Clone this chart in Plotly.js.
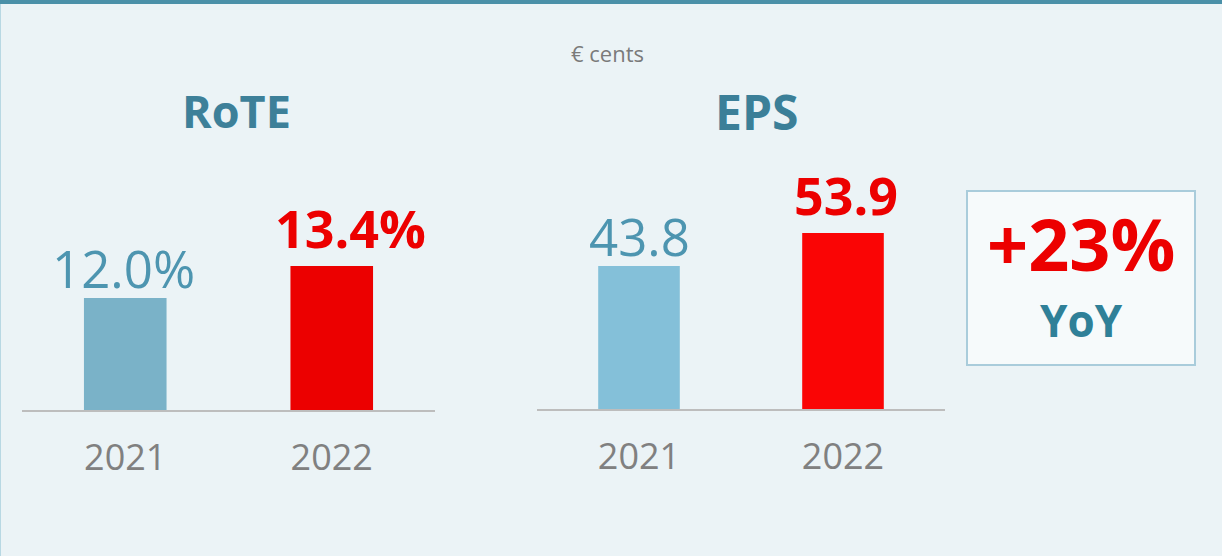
<!DOCTYPE html>
<html>
<head>
<meta charset="utf-8">
<script src="https://cdn.plot.ly/plotly-3.0.1.min.js"></script>
<style>html,body{margin:0;padding:0;background:#EBF3F6;}#chart{width:1222px;height:556px;}</style>
</head>
<body>
<div id="chart"></div>
<script>
// ---- data ----
const years = ['2021', '2022'];
const roteValues = [12.0, 13.4];
const epsValues = [43.8, 53.9];
const roteColors = ['#7AB2C8', '#EC0000'];
const epsColors = ['#84C0D9', '#FA0505'];
const labelColors = ['#4D95B0', '#EC0000'];
const unitNote = '€ cents';
const titles = ['RoTE', 'EPS'];

// ---- helpers ----
const W = 1222, H = 556;
const px = x => x / W;
const py = y => 1 - y / H;
const FONT = '"Open Sans", "Noto Sans", sans-serif';

const yoy = Math.round((epsValues[1] / epsValues[0] - 1) * 100);
const yoyText = (yoy >= 0 ? '+' : '') + yoy + '%';

const traces = [
  {type: 'bar', x: years, y: roteValues, xaxis: 'x', yaxis: 'y', width: 0.4,
   marker: {color: roteColors}, hoverinfo: 'none', cliponaxis: false},
  {type: 'bar', x: years, y: epsValues, xaxis: 'x2', yaxis: 'y2', width: 0.4,
   marker: {color: epsColors}, hoverinfo: 'none', cliponaxis: false}
];

const annotations = [];
function valueLabels(vals, fmt, xr, yr, shifts) {
  vals.forEach((v, i) => {
    const bold = i === 1;
    annotations.push({
      xref: xr, yref: yr, x: i, y: v, text: fmt(v),
      showarrow: false, yanchor: 'middle', xanchor: 'center',
      yshift: bold ? 38 : 30, xshift: shifts[i],
      font: {family: FONT, size: bold ? 52 : 51, color: labelColors[i], weight: bold ? 700 : 400}
    });
  });
}
valueLabels(roteValues, v => v.toFixed(1) + '%', 'x', 'y', [-2, 19]);
valueLabels(epsValues, v => v.toFixed(1), 'x2', 'y2', [0, 3]);

annotations.push(
  {xref: 'paper', yref: 'paper', x: px(236), y: py(111), text: titles[0], showarrow: false,
   xanchor: 'center', yanchor: 'middle', font: {family: FONT, size: 45, color: '#3D8099', weight: 700}},
  {xref: 'paper', yref: 'paper', x: px(756), y: py(112), text: titles[1], showarrow: false,
   xanchor: 'center', yanchor: 'middle', font: {family: FONT, size: 48, color: '#3B7F98', weight: 700}},
  {xref: 'paper', yref: 'paper', x: px(607), y: py(53), text: unitNote, showarrow: false,
   xanchor: 'center', yanchor: 'middle', font: {family: FONT, size: 22, color: '#7A7A7A'}},
  {xref: 'paper', yref: 'paper', x: px(1081), y: py(243), text: yoyText, showarrow: false,
   xanchor: 'center', yanchor: 'middle', font: {family: FONT, size: 72, color: '#EC0000', weight: 700}},
  {xref: 'paper', yref: 'paper', x: px(1081), y: py(320), text: 'YoY', showarrow: false,
   xanchor: 'center', yanchor: 'middle', font: {family: FONT, size: 44, color: '#2F8098', weight: 700}}
);

const tickfont = {family: FONT, size: 36, color: '#808080'};
const layout = {
  width: W, height: H,
  margin: {l: 0, r: 0, t: 0, b: 0},
  paper_bgcolor: '#EBF3F6', plot_bgcolor: 'rgba(0,0,0,0)',
  showlegend: false,
  xaxis: {domain: [px(22), px(435)], type: 'category', range: [-0.5, 1.5], anchor: 'y',
          showline: true, linecolor: '#BDBDBD', linewidth: 2, showgrid: false, zeroline: false,
          ticks: '', tickfont: tickfont, ticklabelstandoff: 15, fixedrange: true},
  yaxis: {domain: [py(410), py(150)], range: [7.1, 18.47], visible: false, fixedrange: true},
  xaxis2: {domain: [px(537), px(945)], type: 'category', range: [-0.5, 1.5], anchor: 'y2',
          showline: true, linecolor: '#BDBDBD', linewidth: 2, showgrid: false, zeroline: false,
          ticks: '', tickfont: tickfont, ticklabelstandoff: 15, fixedrange: true},
  yaxis2: {domain: [py(409), py(149)], range: [0, 79.6], visible: false, fixedrange: true},
  annotations: annotations,
  shapes: [
    {type: 'rect', xref: 'paper', yref: 'paper', x0: 0, x1: 1, y0: py(4), y1: 1,
     fillcolor: '#4A90A8', line: {width: 0}, layer: 'above'},
    {type: 'line', xref: 'paper', yref: 'paper', x0: px(0.5), x1: px(0.5), y0: 0, y1: py(4),
     line: {color: '#B8D8E3', width: 1}},
    {type: 'rect', xref: 'paper', yref: 'paper', x0: px(967), x1: px(1195), y0: py(365), y1: py(191),
     fillcolor: '#F6FAFB', line: {color: '#A9CCDB', width: 2}, layer: 'below'}
  ]
};

Plotly.newPlot('chart', traces, layout, {displayModeBar: false, staticPlot: true});
</script>
</body>
</html>
